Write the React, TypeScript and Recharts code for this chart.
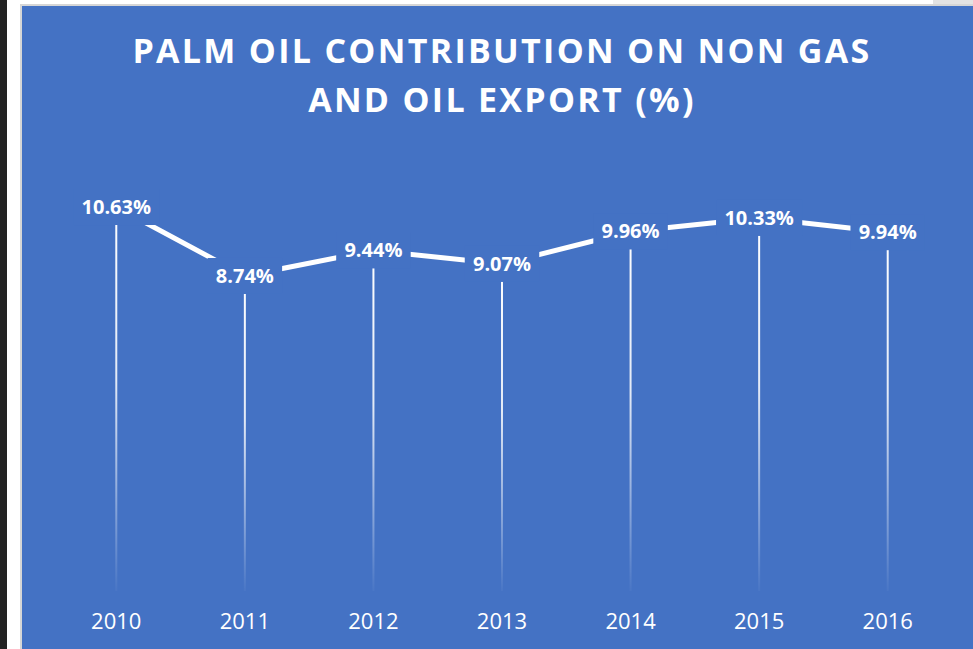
import { LineChart, Line, XAxis, YAxis, LabelList } from 'recharts'

// values
const YEARS = ['2010', '2011', '2012', '2013', '2014', '2015', '2016']
const SHARE = [10.63, 8.74, 9.44, 9.07, 9.96, 10.33, 9.94]
const TITLE_LINES = ['PALM OIL CONTRIBUTION ON NON GAS', 'AND OIL EXPORT (%)']
const Y_DOMAIN: [number, number] = [0, 12]

const BLUE = '#4472C4'
const FONT = "'Open Sans', 'DejaVu Sans', sans-serif"
const W = 951
const H = 643
const MARGIN = { top: 151, right: 21, bottom: 14, left: 30 }
const AXIS_H = 40
const PLOT_BOTTOM = H - MARGIN.bottom - AXIS_H

const data = YEARS.map((year, i) => ({ year, share: SHARE[i] }))

function DropLine(props: any) {
  const { cx, cy, index } = props
  if (cx == null || cy == null) return null
  return (
    <rect
      key={`drop-${index}`}
      x={cx - 1}
      y={cy}
      width={2}
      height={PLOT_BOTTOM - 4 - cy}
      fill="url(#dropFade)"
    />
  )
}

function PointLabel(props: any) {
  const { x, y, value, index } = props
  const text = `${Number(value).toFixed(2)}%`
  const w = text.length * 11.7 + 16
  return (
    <g key={`lbl-${index}`}>
      <rect x={x - w / 2} y={y - 18} width={w} height={36} fill={BLUE} />
      <text
        x={x}
        y={y + 7}
        textAnchor="middle"
        fill="#fff"
        fontFamily={FONT}
        fontWeight={700}
        fontSize={20}
      >
        {text}
      </text>
    </g>
  )
}

function YearTick(props: any) {
  const { x, y, payload } = props
  return (
    <text x={x} y={y + 34} textAnchor="middle" fill="#fff" fontFamily={FONT} fontSize={22}>
      {payload.value}
    </text>
  )
}

export default function App() {
  return (
    <div style={{ position: 'fixed', left: 0, top: 0, width: 973, height: 649, background: '#fff', overflow: 'hidden' }}>
      <div style={{ position: 'absolute', left: 0, top: 0, width: 7, height: 649, background: '#222' }} />
      <div style={{ position: 'absolute', left: 933, top: 0, width: 40, height: 5, background: '#e3e3e3' }} />
      <div
        style={{
          position: 'absolute',
          left: 20,
          top: 4,
          width: W,
          height: H,
          border: '2px solid #d6d6d6',
          borderRight: 'none',
          borderBottom: 'none',
        }}
      >
        <div style={{ position: 'relative', width: W, height: H, background: BLUE }}>
          <LineChart width={W} height={H} data={data} margin={MARGIN}>
            <defs>
              <linearGradient id="dropFade" x1="0" y1="0" x2="0" y2="1">
                <stop offset="0%" stopColor="#fff" stopOpacity={1} />
                <stop offset="45%" stopColor="#fff" stopOpacity={0.85} />
                <stop offset="100%" stopColor="#fff" stopOpacity={0.03} />
              </linearGradient>
            </defs>
            <XAxis
              dataKey="year"
              scale="band"
              height={AXIS_H}
              axisLine={false}
              tickLine={false}
              tickSize={0}
              tickMargin={0}
              interval={0}
              tick={<YearTick />}
            />
            <YAxis hide domain={Y_DOMAIN} />
            <Line
              dataKey="share"
              stroke="#fff"
              strokeWidth={5}
              dot={<DropLine />}
              activeDot={false}
              isAnimationActive={false}
            >
              <LabelList dataKey="share" content={<PointLabel />} />
            </Line>
          </LineChart>
          <svg
            width={W}
            height={130}
            style={{ position: 'absolute', left: 0, top: 0, pointerEvents: 'none' }}
          >
            {TITLE_LINES.map((line, i) => (
              <text
                key={line}
                x={480}
                y={57 + i * 49}
                textAnchor="middle"
                fill="#fff"
                fontFamily={FONT}
                fontWeight={700}
                fontSize={34}
                letterSpacing={2.3}
              >
                {line}
              </text>
            ))}
          </svg>
        </div>
      </div>
    </div>
  )
}
